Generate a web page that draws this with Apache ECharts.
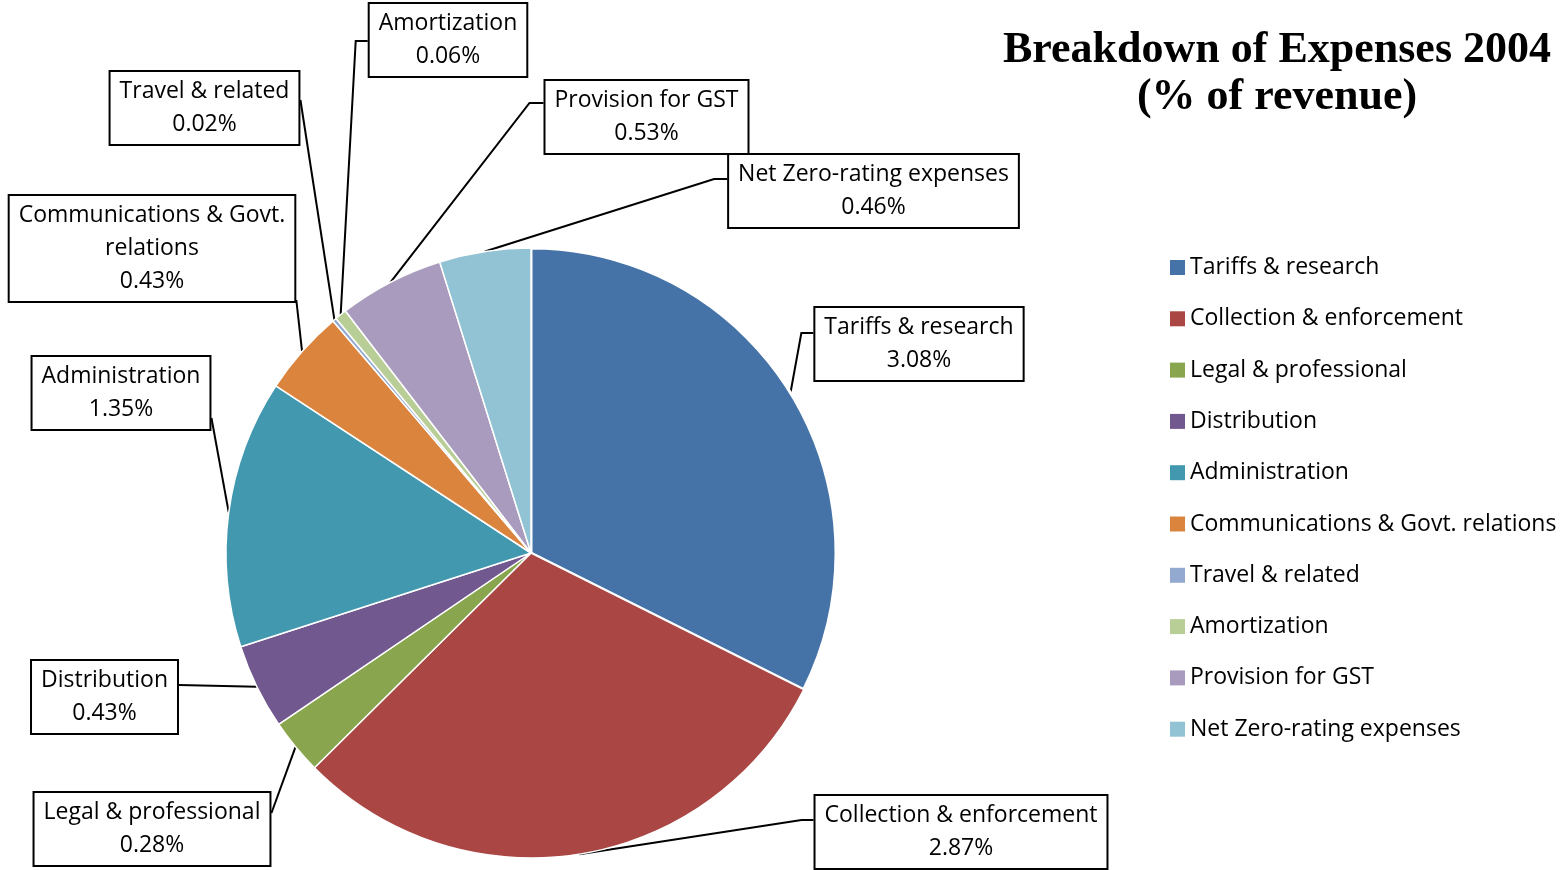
<!DOCTYPE html>
<html>
<head>
<meta charset="utf-8">
<script src="https://cdn.jsdelivr.net/npm/echarts@6/dist/echarts.min.js"></script>
<style>
  html, body { margin: 0; padding: 0; background: #fff; }
  #chart { width: 1564px; height: 870px; }
</style>
</head>
<body>
<div id="chart"></div>
<script>
const categories = [
  'Tariffs & research',
  'Collection & enforcement',
  'Legal & professional',
  'Distribution',
  'Administration',
  'Communications & Govt. relations',
  'Travel & related',
  'Amortization',
  'Provision for GST',
  'Net Zero-rating expenses'
];
const values = [3.08, 2.87, 0.28, 0.43, 1.35, 0.43, 0.02, 0.06, 0.53, 0.46];
const colors = ['#4572A7', '#AA4643', '#89A54E', '#71588F', '#4198AF',
                '#DB843D', '#93A9CF', '#B9CD96', '#A99BBD', '#92C3D4'];

// label box placement: centre x, top y, side the leader attaches to, offset from top, stub length
const boxes = [
  { x: 919,   y: 308, side: 'left',  dy: 25,  stub: 12 },
  { x: 961,   y: 796, side: 'left',  dy: 24,  stub: 12 },
  { x: 152,   y: 793, side: 'right', dy: 20,  stub: 0 },
  { x: 104.5, y: 661, side: 'right', dy: 24,  stub: 0 },
  { x: 121,   y: 357, side: 'right', dy: 61,  stub: 0 },
  { x: 152,   y: 196, side: 'right', dy: 104, stub: 0 },
  { x: 204.5, y: 72,  side: 'right', dy: 28,  stub: 0 },
  { x: 448,   y: 4,   side: 'left',  dy: 37,  stub: 12 },
  { x: 646.5, y: 81,  side: 'left',  dy: 22,  stub: 14 },
  { x: 873.5, y: 155, side: 'left',  dy: 24,  stub: 13 }
];

const chart = echarts.init(document.getElementById('chart'));

const labelFont = 'Open Sans';

chart.setOption({
  animation: false,
  color: colors,
  title: {
    text: 'Breakdown of Expenses 2004\n(% of revenue)',
    left: 1272,
    top: 22,
    textAlign: 'center',
    textStyle: {
      fontFamily: 'Liberation Serif',
      fontWeight: 'bold',
      fontSize: 44,
      lineHeight: 47,
      color: '#000'
    }
  },
  legend: {
    orient: 'vertical',
    left: 1170,
    top: 256,
    padding: 0,
    icon: 'rect',
    itemWidth: 15,
    itemHeight: 15,
    itemGap: 28.3,
    itemStyle: { borderWidth: 0 },
    data: categories,
    textStyle: {
      fontFamily: labelFont,
      fontSize: 23,
      lineHeight: 21,
      color: '#000'
    }
  },
  series: [
    {
      type: 'pie',
      center: [531, 553],
      radius: 305,
      startAngle: 90,
      clockwise: true,
      avoidLabelOverlap: false,
      itemStyle: { borderColor: '#fff', borderWidth: 1.5 },
      label: {
        show: true,
        position: 'outside',
        formatter: p => (p.dataIndex === 5 ? 'Communications & Govt.\nrelations' : p.name) +
          '\n' + p.value.toFixed(2) + '%',
        fontFamily: labelFont,
        fontSize: 23,
        lineHeight: 33,
        color: '#000',
        align: 'center',
        backgroundColor: '#fff',
        borderColor: '#000',
        borderWidth: 2,
        padding: [3, 9]
      },
      labelLine: {
        show: true,
        lineStyle: { color: '#000', width: 2 }
      },
      labelLayout: params => {
        const b = boxes[params.dataIndex];
        const w = params.labelRect.width;
        const start = params.labelLinePoints[0];
        const ex = b.side === 'left' ? b.x - w / 2 : b.x + w / 2;
        const ey = b.y + b.dy;
        const bx = b.side === 'left' ? ex - b.stub : ex + b.stub;
        return {
          x: b.x,
          y: b.y,
          align: 'center',
          verticalAlign: 'top',
          labelLinePoints: [start, [bx, ey], [ex, ey]]
        };
      },
      emphasis: { disabled: true },
      data: categories.map((name, i) => ({
        name: name,
        value: values[i],
        itemStyle: i === 0 ? { borderWidth: 3 } : undefined
      }))
    }
  ]
});
</script>
</body>
</html>
